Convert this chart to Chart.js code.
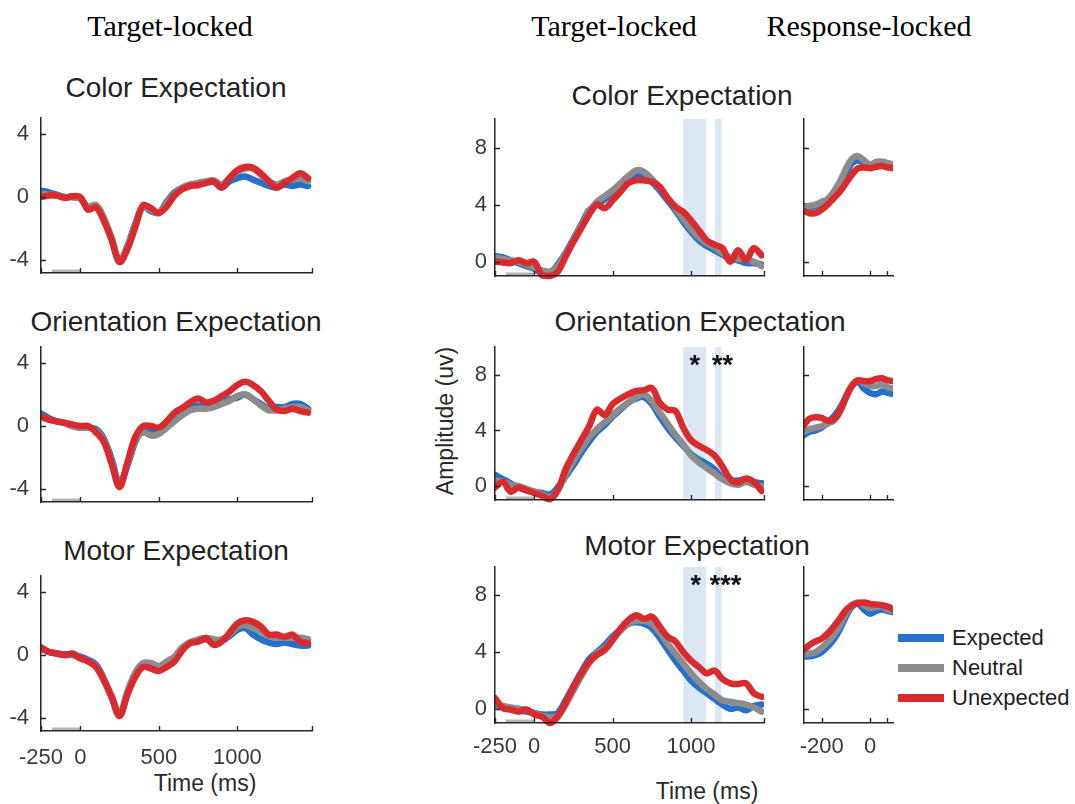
<!DOCTYPE html>
<html>
<head>
<meta charset="utf-8">
<script src="https://cdn.jsdelivr.net/npm/chart.js@4.4.1/dist/chart.umd.min.js"></script>
<style>
  body { margin: 0; background: #fff; width: 1075px; height: 804px; position: relative; overflow: hidden;
         font-family: "Liberation Sans", Arial, sans-serif; color: #262626; }
  .panel { position: absolute; }
  .txt { position: absolute; white-space: nowrap; line-height: 1; transform: translate(-50%, -50%); }
  .hdr { font-family: "Liberation Serif", "Times New Roman", serif; font-size: 30px; color: #000; }
  .ttl { font-size: 28px; color: #222; }
  .axl { font-size: 23px; color: #2a2a2a; }
  .leg { position: absolute; }
  .leg .sw { position: absolute; left: 0; width: 46px; height: 8px; transform: translateY(-50%); }
  .leg .lb { position: absolute; left: 54px; font-size: 22px; line-height: 1; transform: translateY(-50%); white-space: nowrap; color: #1e1e1e; }
</style>
</head>
<body>

<div class="txt hdr" style="left:170px; top:26px;">Target-locked</div>
<div class="txt hdr" style="left:614px; top:26px;">Target-locked</div>
<div class="txt hdr" style="left:869px; top:26px;">Response-locked</div>

<div class="txt ttl" style="left:176px; top:88px;">Color Expectation</div>
<div class="txt ttl" style="left:176px; top:322px;">Orientation Expectation</div>
<div class="txt ttl" style="left:176px; top:551px;">Motor Expectation</div>
<div class="txt ttl" style="left:682px; top:96px;">Color Expectation</div>
<div class="txt ttl" style="left:700px; top:322px;">Orientation Expectation</div>
<div class="txt ttl" style="left:697px; top:546px;">Motor Expectation</div>

<div class="txt axl" style="left:205px; top:783px;">Time (ms)</div>
<div class="txt axl" style="left:707px; top:791px;">Time (ms)</div>
<div class="txt axl" style="left:445px; top:421px; transform: translate(-50%, -50%) rotate(-90deg);">Amplitude (uv)</div>

<div class="leg" id="legend" style="left:898px; top:0px;"></div>

<script>
// ---- time bases (ms) ----
const tTarget = [-250,-200,-150,-100,-50,0,50,100,150,200,250,300,350,400,450,500,550,600,650,700,750,800,850,900,950,1000,1050,1100,1150,1200,1250,1300,1350,1400,1450];
const tResponse = [-275,-250,-225,-200,-175,-150,-125,-100,-75,-50,-25,0,25,50,75,100];

// ---- condition names ----
const conditions = ['Expected', 'Neutral', 'Unexpected'];

// ---- early target-locked component (uV) ----
const colorEarlyExp = [0.4,0.3,0.15,0.0,0.0,-0.1,-0.7,-0.6,-1.4,-2.7,-4.1,-3.1,-1.7,-0.6,-0.9,-1.0,-0.3,0.3,0.6,0.75,0.8,0.9,0.95,0.6,1.0,1.2,1.3,1.1,0.9,0.7,0.6,0.8,0.7,0.8,0.7];
const colorEarlyNeu = [0.2,0.15,0.1,0.0,0.0,-0.1,-0.6,-0.5,-1.3,-2.6,-4.0,-3.1,-1.8,-0.6,-0.8,-1.0,-0.4,0.2,0.6,0.8,0.9,1.0,1.05,0.8,1.2,1.6,1.8,1.8,1.4,1.0,0.8,1.0,1.1,1.2,1.0];
const colorEarlyUnx = [0.0,0.1,0.1,-0.05,0.05,0.0,-0.8,-0.65,-1.5,-2.7,-4.1,-3.3,-1.9,-0.5,-0.7,-1.0,-0.6,0.1,0.5,0.7,0.75,0.9,1.0,0.6,1.2,1.7,1.9,1.85,1.5,1.0,0.6,0.9,1.2,1.5,1.2];

const orientEarlyExp = [0.8,0.5,0.3,0.2,0.0,-0.1,-0.1,-0.2,-0.8,-2.1,-3.6,-2.5,-1.0,-0.2,-0.3,-0.3,0.2,0.6,0.9,1.2,1.3,1.2,1.3,1.5,1.7,1.8,2.0,1.7,1.4,1.1,1.2,1.2,1.4,1.4,1.1];
const orientEarlyNeu = [0.6,0.4,0.3,0.2,0.0,-0.1,-0.1,-0.3,-0.9,-2.3,-3.7,-2.4,-0.9,-0.4,-0.6,-0.5,-0.1,0.3,0.7,1.0,1.1,1.1,1.2,1.4,1.6,1.9,2.0,1.7,1.3,1.0,1.0,1.1,1.2,1.2,1.0];
const orientEarlyUnx = [0.6,0.4,0.3,0.2,0.1,0.0,0.0,-0.4,-1.0,-2.4,-3.85,-2.3,-0.7,0.0,0.0,-0.1,0.3,0.85,1.15,1.5,1.75,1.5,1.6,1.9,2.2,2.6,2.8,2.6,2.2,1.6,1.05,0.95,1.1,0.95,0.85];

const motorEarlyExp = [0.4,0.2,0.1,0.05,0.0,-0.1,-0.3,-0.6,-1.5,-2.7,-3.8,-2.4,-1.2,-0.6,-0.6,-0.8,-0.5,-0.2,0.4,0.8,0.9,1.0,0.9,0.9,1.2,1.6,1.7,1.3,1.0,0.8,0.7,0.8,0.7,0.6,0.6];
const motorEarlyNeu = [0.4,0.2,0.1,0.0,0.0,-0.2,-0.4,-0.7,-1.5,-2.6,-3.7,-2.3,-1.1,-0.5,-0.5,-0.7,-0.4,-0.1,0.5,0.8,1.0,1.1,1.0,1.0,1.3,1.8,1.9,1.7,1.5,1.2,1.1,1.1,1.1,1.1,1.0];
const motorEarlyUnx = [0.5,0.2,0.1,0.0,0.1,-0.2,-0.4,-0.75,-1.6,-2.65,-3.85,-2.5,-1.4,-0.75,-0.85,-1.0,-0.75,-0.4,0.3,0.75,0.85,1.05,0.65,0.85,1.4,2.0,2.2,2.1,1.8,1.3,1.3,1.15,1.3,0.85,0.75];

// ---- late target-locked component (uV) ----
const colorLateExp = [0.4,0.3,0.1,-0.1,-0.3,-0.5,-0.8,-0.8,-0.2,0.6,1.6,2.6,3.6,4.0,4.4,4.9,5.4,5.9,6.1,6.0,5.6,5.0,4.3,3.6,2.8,2.1,1.5,1.1,0.8,0.5,0.2,0.1,-0.1,-0.1,-0.2];
const colorLateNeu = [0.3,0.2,0.1,0.0,-0.2,-0.4,-0.6,-0.7,-0.3,0.5,1.5,2.5,3.5,4.2,4.6,5.0,5.5,6.0,6.4,6.3,5.8,5.2,4.5,3.8,3.0,2.3,1.7,1.3,1.0,0.6,0.3,0.2,0.2,0.0,-0.3];
const colorLateUnx = [0.0,-0.05,-0.1,0.1,-0.1,0.0,-0.95,-1.0,-0.7,0.35,1.4,2.35,3.3,4.0,3.75,4.3,4.9,5.5,5.7,5.7,5.6,5.25,4.45,3.85,3.5,2.9,2.2,1.5,1.2,0.95,0.0,0.8,0.1,0.95,0.45];

const orientLateExp = [0.8,0.5,0.2,-0.1,-0.3,-0.4,-0.5,-0.6,-0.1,0.7,1.5,2.4,3.2,3.9,4.4,5.0,5.5,6.0,6.3,6.4,5.9,5.0,4.2,3.5,2.9,2.3,1.9,1.6,1.2,0.6,0.4,0.4,0.5,0.3,0.2];
const orientLateNeu = [0.4,0.3,0.1,0.0,-0.2,-0.4,-0.6,-0.8,-0.3,0.8,1.8,2.7,3.5,4.1,4.6,5.1,5.6,6.0,6.4,6.6,6.1,5.3,4.5,3.7,3.0,2.2,1.7,1.3,0.9,0.5,0.2,0.1,0.3,0.1,0.0];
const orientLateUnx = [-0.1,0.3,-0.4,-0.1,-0.3,-0.5,-0.7,-0.95,-0.3,1.2,2.3,3.3,4.3,5.5,5.1,5.9,6.3,6.6,6.85,6.9,7.05,6.0,5.5,5.4,4.2,3.3,2.9,2.6,2.2,1.4,0.5,0.25,0.55,0.3,-0.35];

const motorLateExp = [0.3,0.1,0.0,-0.1,-0.2,-0.3,-0.4,-0.4,-0.3,0.6,1.6,2.6,3.5,4.0,4.5,5.1,5.6,6.0,6.1,6.0,5.7,5.0,4.2,3.4,2.7,2.0,1.5,1.1,0.7,0.3,0.0,0.1,-0.1,0.2,0.3];
const motorLateNeu = [0.4,0.2,0.1,0.0,-0.1,-0.3,-0.5,-0.6,-0.5,0.3,1.3,2.3,3.2,3.9,4.3,4.9,5.5,6.0,6.2,6.2,6.0,5.4,4.6,3.9,3.2,2.5,1.9,1.4,1.0,0.6,0.5,0.4,0.3,0.1,-0.2];
const motorLateUnx = [0.75,0.05,-0.05,-0.2,-0.05,-0.4,-0.55,-1.0,-0.55,0.4,1.55,2.5,3.3,3.8,4.15,4.85,5.65,6.25,6.6,6.35,6.5,5.8,5.1,4.75,4.0,3.4,2.95,2.5,2.7,2.1,1.8,1.75,1.8,1.1,0.85];

// ---- response-locked component (uV) ----
const colorRespExp = [3.8,3.8,3.9,4.1,4.3,4.7,5.3,6.1,6.9,7.1,6.9,6.6,6.8,6.9,6.8,6.7];
const colorRespNeu = [3.9,3.9,4.0,4.2,4.4,4.9,5.6,6.5,7.2,7.4,7.1,6.8,7.0,7.0,6.9,6.8];
const colorRespUnx = [3.55,3.4,3.4,3.65,4.0,4.45,4.9,5.5,6.1,6.55,6.6,6.55,6.65,6.7,6.6,6.55];

const orientRespExp = [3.65,3.9,4.0,4.2,4.6,5.0,5.6,6.4,7.2,7.5,7.0,6.7,6.6,6.8,6.7,6.6];
const orientRespNeu = [3.9,4.1,4.2,4.3,4.5,4.7,5.3,6.3,7.2,7.6,7.4,7.2,7.2,7.3,7.1,7.0];
const orientRespUnx = [4.35,4.85,4.95,4.9,4.7,4.8,5.4,6.4,7.2,7.6,7.55,7.55,7.7,7.75,7.6,7.55];

const motorRespExp = [3.7,3.7,3.8,4.0,4.4,4.9,5.6,6.5,7.2,7.4,7.0,6.7,6.9,7.0,6.9,6.8];
const motorRespNeu = [3.8,3.9,4.0,4.3,4.7,5.2,5.9,6.7,7.3,7.5,7.3,7.1,7.2,7.2,7.0,6.9];
const motorRespUnx = [4.15,4.5,4.75,4.95,5.3,5.8,6.35,6.95,7.3,7.45,7.5,7.4,7.35,7.3,7.2,6.95];

// ---- baseline window and significance windows (ms) ----
const baselineWindow = [-180, 0];
const sigWindows = [[950, 1095], [1152, 1195]];
const starTimesOrient = [1023, 1200];
const starTextOrient = ['*', '**'];
const starTimesMotor = [1030, 1219];
const starTextMotor = ['*', '***'];
const starLevel = 9.2;

// ---- tick values ----
const xTicksEarly = [-250, 0, 500, 1000, 1475];
const xLabelsEarly = [-250, 0, 500, 1000];
const xTicksLate = [-250, 0, 500, 1000, 1465];
const xTicksResp = [-200, 0, 72];
const xLabelsResp = [-200, 0];
const yTicksEarly = [-4, 0, 4];
const yTicksLate = [0, 4, 8];
const yTicksResp = [0, 8];

// ---- styling ----
const lineColors = ['#2470cc', '#8c8c8c', '#d92a2e'];
const AXIS = '#262626';
const TICK = '#3a3a3a';
const BASE_BAR = '#b5b5b5';
const BAND = 'rgba(214,227,242,0.85)';
Chart.defaults.font.family = '"Liberation Sans", Arial, sans-serif';

function panel(p) {
  const padL = 50, padR = 10, padT = 6, padB = 40;
  const w = p.r - p.l + padL + padR;
  const h = p.b - p.t + padT + padB;
  const box = document.createElement('div');
  box.className = 'panel';
  Object.assign(box.style, { left: (p.l - padL) + 'px', top: (p.t - padT) + 'px', width: w + 'px', height: h + 'px' });
  const cv = document.createElement('canvas');
  cv.width = w; cv.height = h;
  cv.style.width = w + 'px'; cv.style.height = h + 'px';
  box.appendChild(cv);
  document.body.appendChild(box);

  const datasets = [];
  p.series.forEach((vals, k) => {
    datasets.push({
      label: conditions[k],
      data: p.times.map((t, i) => ({ x: t, y: vals[i] })),
      borderColor: lineColors[k],
      borderWidth: 6.5,
      tension: 0.35,
      pointRadius: 0,
      borderJoinStyle: 'round',
      borderCapStyle: 'round',
      order: 2 - k,
      clip: { left: 0, right: 0, top: 4, bottom: 4 }
    });
  });
  if (p.baseline) {
    datasets.push({
      label: 'baseline',
      data: baselineWindow.map(t => ({ x: t, y: p.yMin })),
      borderColor: BASE_BAR,
      borderWidth: 7,
      pointRadius: 0,
      tension: 0,
      borderCapStyle: 'butt',
      order: 5,
      clip: 0
    });
  }

  const decor = {
    id: 'decor',
    beforeDatasetsDraw(chart) {
      if (!p.bands) return;
      const { ctx, chartArea: a, scales: { x } } = chart;
      ctx.save();
      ctx.fillStyle = BAND;
      p.bands.forEach(([s, e]) => {
        const x0 = x.getPixelForValue(s), x1 = x.getPixelForValue(e);
        ctx.fillRect(x0, a.top, x1 - x0, a.bottom - a.top);
      });
      ctx.restore();
    },
    afterDatasetsDraw(chart) {
      const { ctx, chartArea: a, scales: { x, y } } = chart;
      ctx.save();
      ctx.strokeStyle = AXIS;
      ctx.lineWidth = 1.4;
      ctx.beginPath();
      x.ticks.forEach(t => {
        const px = Math.round(x.getPixelForValue(t.value)) + 0.5;
        ctx.moveTo(px, a.bottom); ctx.lineTo(px, a.bottom - 5);
      });
      y.ticks.forEach(t => {
        const py = Math.round(y.getPixelForValue(t.value)) + 0.5;
        ctx.moveTo(a.left, py); ctx.lineTo(a.left + 5, py);
      });
      ctx.stroke();
      if (p.starTimes) {
        ctx.fillStyle = '#111';
        ctx.font = 'bold 27px "Liberation Sans", Arial, sans-serif';
        ctx.textAlign = 'center';
        ctx.textBaseline = 'alphabetic';
        p.starTimes.forEach((t, i) => {
          ctx.fillText(p.starText[i], x.getPixelForValue(t), y.getPixelForValue(starLevel) + 16);
        });
      }
      ctx.restore();
    }
  };

  new Chart(cv, {
    type: 'line',
    data: { datasets },
    options: {
      responsive: false,
      animation: false,
      devicePixelRatio: 1,
      events: [],
      layout: { padding: { top: padT, right: padR, left: 0, bottom: 0 } },
      plugins: { legend: { display: false }, tooltip: { enabled: false } },
      scales: {
        x: {
          type: 'linear', min: p.xMin, max: p.xMax,
          grid: { display: false, drawTicks: false },
          border: { display: true, color: AXIS, width: 1.5, z: 1 },
          ticks: {
            font: { size: 22 }, color: TICK, padding: p.xPad, maxRotation: 0, autoSkip: false,
            callback: v => (p.xLabels.includes(v) ? String(v) : '')
          },
          afterBuildTicks: s => { s.ticks = p.xTicks.map(v => ({ value: v })); },
          afterFit: s => { s.height = padB; s.paddingLeft = 0; s.paddingRight = 0; }
        },
        y: {
          type: 'linear', min: p.yMin, max: p.yMax,
          grid: { display: false, drawTicks: false },
          border: { display: true, color: AXIS, width: 1.5, z: 1 },
          ticks: {
            font: { size: 22 }, color: TICK, padding: p.yPad, autoSkip: false,
            callback: v => (p.yLabels ? String(v) : '')
          },
          afterBuildTicks: s => { s.ticks = p.yTicks.map(v => ({ value: v })); },
          afterFit: s => { s.width = padL; s.paddingTop = 0; s.paddingBottom = 0; }
        }
      }
    },
    plugins: [decor]
  });
}

// left column: early target-locked
const earlyCommon = { l: 41, r: 312, xMin: -250, xMax: 1475, yMin: -4.8, yMax: 5, times: tTarget,
  xTicks: xTicksEarly, yTicks: yTicksEarly, yLabels: true, yPad: 12, xPad: 14, baseline: true };
panel({ ...earlyCommon, t: 118, b: 273, series: [colorEarlyExp, colorEarlyNeu, colorEarlyUnx], xLabels: [] });
panel({ ...earlyCommon, t: 347, b: 502, series: [orientEarlyExp, orientEarlyNeu, orientEarlyUnx], xLabels: [] });
panel({ ...earlyCommon, t: 576, b: 731, series: [motorEarlyExp, motorEarlyNeu, motorEarlyUnx], xLabels: xLabelsEarly });

// middle column: late target-locked
const lateCommon = { l: 495, r: 764, xMin: -250, xMax: 1465, yMin: -1, yMax: 10, times: tTarget,
  xTicks: xTicksLate, yTicks: yTicksLate, yLabels: true, yPad: 8, xPad: 11, baseline: true, bands: sigWindows };
panel({ ...lateCommon, t: 119, b: 276, series: [colorLateExp, colorLateNeu, colorLateUnx], xLabels: [] });
panel({ ...lateCommon, t: 347, b: 500, series: [orientLateExp, orientLateNeu, orientLateUnx], xLabels: [],
  starTimes: starTimesOrient, starText: starTextOrient });
panel({ ...lateCommon, t: 567, b: 723, series: [motorLateExp, motorLateNeu, motorLateUnx], xLabels: xLabelsEarly,
  starTimes: starTimesMotor, starText: starTextMotor });

// right column: response-locked
const respCommon = { l: 804, r: 893, xMin: -273, xMax: 95, yMin: -1, yMax: 10, times: tResponse,
  xTicks: xTicksResp, yTicks: yTicksResp, yLabels: false, yPad: 8, xPad: 11, baseline: false };
panel({ ...respCommon, t: 119, b: 276, series: [colorRespExp, colorRespNeu, colorRespUnx], xLabels: [] });
panel({ ...respCommon, t: 347, b: 500, series: [orientRespExp, orientRespNeu, orientRespUnx], xLabels: [] });
panel({ ...respCommon, t: 567, b: 723, series: [motorRespExp, motorRespNeu, motorRespUnx], xLabels: xLabelsResp });

// legend
const legendRows = [638, 668, 698];
const legend = document.getElementById('legend');
conditions.forEach((name, k) => {
  const sw = document.createElement('div');
  sw.className = 'sw';
  sw.style.top = legendRows[k] + 'px';
  sw.style.background = lineColors[k];
  const lb = document.createElement('div');
  lb.className = 'lb';
  lb.style.top = legendRows[k] + 'px';
  lb.textContent = name;
  legend.appendChild(sw);
  legend.appendChild(lb);
});
</script>
</body>
</html>
